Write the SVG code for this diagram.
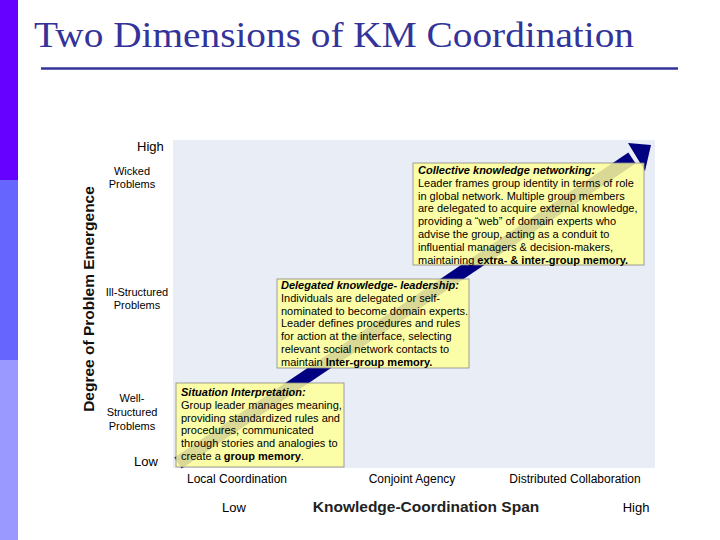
<svg xmlns="http://www.w3.org/2000/svg" width="720" height="540" viewBox="0 0 720 540">
<style>
text{font-family:"Liberation Sans",Arial,sans-serif;fill:#000}
.t{font-size:11px}
.a{font-size:12px}
.b{font-weight:bold}
.h{font-style:italic;font-weight:bold}
.box{fill:#ffff99;fill-opacity:0.85;stroke:#888;stroke-width:0.8}
</style>
<rect width="720" height="540" fill="#fff"/>
<rect x="0" y="0" width="18" height="180" fill="#6600ff"/>
<rect x="0" y="180" width="18" height="180" fill="#6666ff"/>
<rect x="0" y="360" width="18" height="180" fill="#9999ff"/>
<text x="34" y="47" textLength="600" lengthAdjust="spacingAndGlyphs" style="font-family:'Liberation Serif','Times New Roman',serif;font-size:36px;fill:#333399">Two Dimensions of KM Coordination</text>
<line x1="41" y1="68.500" x2="678" y2="68.500" stroke="#333399" stroke-width="2.500"/>
<rect x="173" y="140" width="482" height="328" fill="#e9edf5"/>
<g id="connectors">
<line x1="178" y1="463" x2="632" y2="158" stroke="#000080" stroke-width="13"/>
<polygon points="651,145 628,143 645,171" fill="#000080"/>
</g>
<g id="axes">
<text x="137" y="151" style="font-size:13px">High</text>
<text x="134" y="466" style="font-size:13px">Low</text>
<text x="132" y="175" class="t" text-anchor="middle">Wicked</text>
<text x="132" y="188" class="t" text-anchor="middle">Problems</text>
<text x="137" y="296" class="t" text-anchor="middle">Ill-Structured</text>
<text x="137" y="309" class="t" text-anchor="middle">Problems</text>
<text x="132" y="402" class="t" text-anchor="middle">Well-</text>
<text x="132" y="416" class="t" text-anchor="middle">Structured</text>
<text x="132" y="430" class="t" text-anchor="middle">Problems</text>
<text transform="translate(94,299) rotate(-90)" text-anchor="middle" style="font-size:15.5px;font-weight:bold;fill:#111">Degree of Problem Emergence</text>
<text x="237" y="483" class="a" text-anchor="middle">Local Coordination</text>
<text x="412" y="483" class="a" text-anchor="middle">Conjoint Agency</text>
<text x="575" y="483" class="a" text-anchor="middle">Distributed Collaboration</text>
<text x="234" y="512" style="font-size:13px" text-anchor="middle">Low</text>
<text x="426" y="512" style="font-size:15.5px;font-weight:bold;fill:#222" text-anchor="middle">Knowledge-Coordination Span</text>
<text x="636" y="512" style="font-size:13px" text-anchor="middle">High</text>
</g>
<g id="box1">
<rect class="box" x="413" y="163" width="231" height="102"/>
<text class="t" x="418" y="174"><tspan class="h">Collective knowledge networking:</tspan><tspan x="418" dy="12.8">Leader frames group identity in terms of role</tspan><tspan x="418" dy="12.8">in global network. Multiple group members</tspan><tspan x="418" dy="12.8">are delegated to acquire external knowledge,</tspan><tspan x="418" dy="12.8">providing a “web” of domain experts who</tspan><tspan x="418" dy="12.8">advise the group, acting as a conduit to</tspan><tspan x="418" dy="12.8">influential managers &amp; decision-makers,</tspan><tspan x="418" dy="12.8">maintaining <tspan class="b">extra- &amp; inter-group memory.</tspan></tspan></text>
</g>
<g id="box2">
<rect class="box" x="277" y="279" width="192" height="89"/>
<text class="t" x="281" y="289"><tspan class="h">Delegated knowledge- leadership:</tspan><tspan x="281" dy="12.8">Individuals are delegated or self-</tspan><tspan x="281" dy="12.8">nominated to become domain experts.</tspan><tspan x="281" dy="12.8">Leader defines procedures and rules</tspan><tspan x="281" dy="12.8">for action at the interface, selecting</tspan><tspan x="281" dy="12.8">relevant social network contacts to</tspan><tspan x="281" dy="12.8">maintain <tspan class="b">Inter-group memory.</tspan></tspan></text>
</g>
<g id="box3">
<rect class="box" x="176" y="383" width="168" height="84"/>
<text class="t" x="181" y="396"><tspan class="h">Situation Interpretation:</tspan><tspan x="181" dy="12.8">Group leader manages meaning,</tspan><tspan x="181" dy="12.8">providing standardized rules and</tspan><tspan x="181" dy="12.8">procedures, communicated</tspan><tspan x="181" dy="12.8">through stories and analogies to</tspan><tspan x="181" dy="12.8">create a <tspan class="b">group memory</tspan>.</tspan></text>
</g>
</svg>
